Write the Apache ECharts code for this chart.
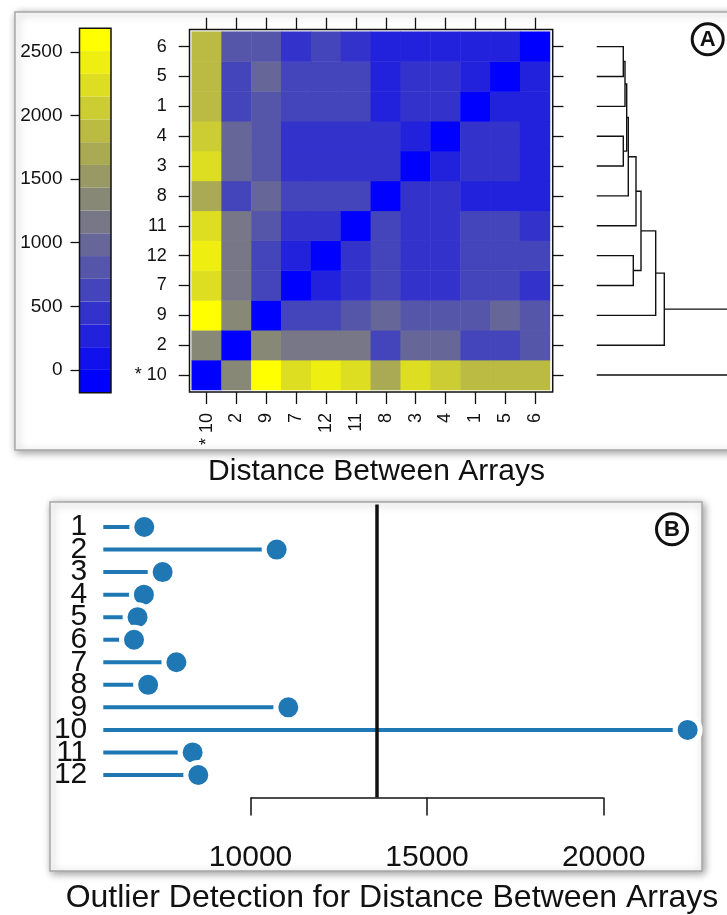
<!DOCTYPE html>
<html>
<head>
<meta charset="utf-8">
<title>Distance Between Arrays</title>
<script src="https://cdn.jsdelivr.net/npm/echarts@6/dist/echarts.min.js"></script>
<style>
  html, body { margin: 0; padding: 0; background: #fff; }
  #main { width: 727px; height: 915px; }
</style>
</head>
<body>
<div id="main"></div>
<script>
// array order of the heatmap (left -> right, bottom -> top) and of the dendrogram leaves
const arrayOrder = ['10', '2', '9', '7', '12', '11', '8', '3', '4', '1', '5', '6'];
const flaggedArray = '10';

// distances between arrays, rows and columns in arrayOrder
const distanceMatrix = [
  [0, 1330, 2570, 2210, 2390, 2210, 1680, 2210, 2035, 1860, 1860, 1860],
  [1330, 0, 1330, 1150, 1150, 1150, 620, 975, 975, 620, 620, 800],
  [2570, 1330, 0, 620, 620, 800, 975, 800, 800, 800, 975, 800],
  [2210, 1150, 620, 0, 270, 445, 620, 445, 445, 620, 620, 445],
  [2390, 1150, 620, 270, 0, 445, 620, 445, 445, 620, 620, 620],
  [2210, 1150, 800, 445, 445, 0, 620, 445, 445, 620, 620, 445],
  [1680, 620, 975, 620, 620, 620, 0, 445, 445, 270, 270, 270],
  [2210, 975, 800, 445, 445, 445, 445, 0, 270, 445, 445, 270],
  [2035, 975, 800, 445, 445, 445, 445, 270, 0, 445, 445, 270],
  [1860, 620, 800, 620, 620, 620, 270, 445, 445, 0, 270, 270],
  [1860, 620, 975, 620, 620, 620, 270, 445, 445, 270, 0, 270],
  [1860, 800, 800, 445, 620, 445, 270, 270, 270, 270, 270, 0]
];

// colour key
const colorBreaks = [-179, 0, 179, 358, 537, 716, 895, 1074, 1253, 1432, 1611, 1790, 1969, 2148, 2327, 2506, 2685];
const colorRamp = ['#0000ff', '#1111ee', '#2222dd', '#3333cc', '#4444bb', '#5555aa', '#666699', '#777788',
                   '#888877', '#999966', '#aaaa55', '#bbbb44', '#cccc33', '#dddd22', '#eeee11', '#ffff00'];
const colorTicks = [0, 500, 1000, 1500, 2000, 2500];

// hclust style merges: negative = array id, positive = earlier merge step, last = height
const dendroMerges = [
  [-6, -5, 266],
  [1, -1, 283],
  [-4, -3, 266],
  [2, 3, 300],
  [4, -8, 316],
  [5, -11, 393],
  [-12, -7, 366],
  [6, 7, 443],
  [8, -9, 590],
  [9, -2, 676],
  [10, -10, 1990]
];

// panel B
const outlierArrays = ['1', '2', '3', '4', '5', '6', '7', '8', '9', '10', '11', '12'];
const outlierScores = [6990, 10740, 7510, 6980, 6800, 6700, 7900, 7100, 11070, 22380, 8360, 8520];
const outlierThreshold = 13570;
const outlierTicks = [10000, 15000, 20000];

const FONT = 'Liberation Sans, Arial, Helvetica, sans-serif';
const INK = '#111';
const plain = v => String(v);

const orderLabels = arrayOrder.map(a => a === flaggedArray ? '* ' + a : a);

// heatmap cells
const heatData = [];
for (let i = 0; i < arrayOrder.length; i++) {
  for (let j = 0; j < arrayOrder.length; j++) {
    heatData.push([i, j, distanceMatrix[j][i]]);
  }
}

const pieces = colorRamp.map((c, k) => ({ gt: colorBreaks[k], lte: colorBreaks[k + 1], color: c }));
const keyData = colorRamp.map((c, k) => [colorBreaks[k], colorBreaks[k + 1], k]);

// dendrogram segments from the merge table
const nodes = [];
const nodeOf = ref => ref < 0 ? { h: 0, p: arrayOrder.indexOf(String(-ref)) } : nodes[ref - 1];
const dendroData = dendroMerges.map(m => {
  const a = nodeOf(m[0]), b = nodeOf(m[1]);
  nodes.push({ h: m[2], p: (a.p + b.p) / 2 });
  return [a.h, a.p, b.h, b.p, m[2]];
});

const catY = [''].concat(outlierArrays, [' ']);

const tickStyle = { color: INK, width: 1.3 };

const chart = echarts.init(document.getElementById('main'));

chart.setOption({
  animation: false,
  textStyle: { fontFamily: FONT },
  grid: [
    { left: 79.5, top: 28.3, width: 31.5, height: 364.4, show: true, z: 5, borderColor: INK, borderWidth: 1.5, backgroundColor: 'transparent', outerBoundsMode: 'none' },
    { left: 189.5, top: 29.5, width: 363.2, height: 362.5, show: true, borderColor: INK, borderWidth: 1.5, backgroundColor: 'transparent', outerBoundsMode: 'none' },
    { left: 191.7, top: 31.7, width: 358.3, height: 358.3, outerBoundsMode: 'none' },
    { left: 596.7, top: 31.7, width: 250, height: 358.3, outerBoundsMode: 'none' },
    { left: 103.3, top: 504.5, width: 596.7, height: 293, outerBoundsMode: 'none' }
  ],
  xAxis: [
    { gridIndex: 0, type: 'value', min: 0, max: 1, show: false },
    { gridIndex: 1, type: 'value', show: false },
    {
      gridIndex: 2, type: 'category', data: orderLabels, position: 'bottom', offset: 2,
      axisLine: { show: false },
      axisTick: { show: true, alignWithLabel: true, length: 12, lineStyle: tickStyle },
      axisLabel: { rotate: 90, margin: 21, fontSize: 18, color: INK, interval: 0 },
      splitLine: { show: false }
    },
    {
      gridIndex: 2, type: 'category', data: orderLabels, position: 'top', offset: 2,
      axisLine: { show: false },
      axisTick: { show: true, alignWithLabel: true, length: 12, lineStyle: tickStyle },
      axisLabel: { show: false },
      splitLine: { show: false }
    },
    { gridIndex: 3, type: 'value', min: 0, max: 2500, show: false },
    {
      gridIndex: 4, type: 'value', min: 5830, max: 22730,
      axisLine: { show: false },
      splitLine: { show: false },
      axisTick: { show: true, customValues: outlierTicks, length: 18, lineStyle: { color: INK, width: 1.5 } },
      axisLabel: { customValues: outlierTicks, formatter: plain, fontSize: 30, margin: 45, color: INK }
    }
  ],
  yAxis: [
    {
      gridIndex: 0, type: 'value', min: colorBreaks[0], max: colorBreaks[colorBreaks.length - 1],
      axisLine: { show: false },
      splitLine: { show: false },
      axisTick: { show: true, customValues: colorTicks, length: 9, lineStyle: tickStyle },
      axisLabel: { customValues: colorTicks, formatter: plain, fontSize: 19, margin: 17, color: INK }
    },
    { gridIndex: 1, type: 'value', show: false },
    {
      gridIndex: 2, type: 'category', data: orderLabels, position: 'left', offset: 2,
      axisLine: { show: false },
      axisTick: { show: true, alignWithLabel: true, length: 11, lineStyle: tickStyle },
      axisLabel: { margin: 23, fontSize: 18, color: INK, interval: 0 },
      splitLine: { show: false }
    },
    {
      gridIndex: 2, type: 'category', data: orderLabels, position: 'right', offset: 2.5,
      axisLine: { show: false },
      axisTick: { show: true, alignWithLabel: true, length: 11, lineStyle: tickStyle },
      axisLabel: { show: false },
      splitLine: { show: false }
    },
    { gridIndex: 3, type: 'value', min: -0.5, max: arrayOrder.length - 0.5, show: false },
    {
      gridIndex: 4, type: 'category', data: catY, inverse: true, boundaryGap: false,
      axisLine: { show: false },
      axisTick: { show: false },
      axisLabel: { fontSize: 30, margin: 16, color: INK, interval: 0 },
      splitLine: { show: false }
    }
  ],
  visualMap: {
    type: 'piecewise', show: false, dimension: 2, seriesIndex: 1, pieces: pieces
  },
  series: [
    {
      // colour key
      type: 'custom', xAxisIndex: 0, yAxisIndex: 0, data: keyData,
      renderItem: (params, api) => {
        const p0 = api.coord([0, api.value(1)]);
        const p1 = api.coord([1, api.value(0)]);
        return {
          type: 'rect',
          shape: { x: p0[0], y: p0[1], width: p1[0] - p0[0], height: p1[1] - p0[1] },
          style: { fill: colorRamp[api.value(2)] }
        };
      }
    },
    {
      type: 'heatmap', xAxisIndex: 2, yAxisIndex: 2, data: heatData,
      itemStyle: { borderWidth: 0 },
      emphasis: { disabled: true }
    },
    {
      // dendrogram
      type: 'custom', xAxisIndex: 4, yAxisIndex: 4, data: dendroData, clip: false,
      renderItem: (params, api) => {
        const h = api.value(4);
        const a = api.coord([api.value(0), api.value(1)]);
        const a2 = api.coord([h, api.value(1)]);
        const b2 = api.coord([h, api.value(3)]);
        const b = api.coord([api.value(2), api.value(3)]);
        return {
          type: 'polyline',
          shape: { points: [a, a2, b2, b] },
          style: { stroke: INK, lineWidth: 1.4, fill: null }
        };
      }
    },
    {
      type: 'bar', xAxisIndex: 5, yAxisIndex: 5, barWidth: 4,
      data: outlierArrays.map((a, i) => [outlierScores[i], a]),
      itemStyle: { color: '#1f77b4' },
      markLine: {
        silent: true, symbol: 'none', label: { show: false },
        data: [
          [
            { coord: [outlierTicks[0], catY.length - 1], lineStyle: { color: INK, width: 1.5, type: 'solid' } },
            { coord: [outlierTicks[outlierTicks.length - 1], catY.length - 1] }
          ],
          { xAxis: outlierThreshold, lineStyle: { color: INK, width: 3.5, type: 'solid' } }
        ]
      }
    },
    {
      type: 'scatter', xAxisIndex: 5, yAxisIndex: 5, symbolSize: 25,
      data: outlierArrays.map((a, i) => [outlierScores[i], a]),
      itemStyle: { color: '#1f77b4', borderColor: '#fff', borderWidth: 5, opacity: 1 },
      z: 4
    }
  ],
  graphic: [
    {
      type: 'rect', z: -10, silent: true,
      shape: { x: 15, y: 12, width: 740, height: 438 },
      style: { fill: '#fff', stroke: '#a8a8a8', lineWidth: 1.5, shadowBlur: 8, shadowColor: 'rgba(0,0,0,0.4)', shadowOffsetX: 2, shadowOffsetY: 2 }
    },
    {
      type: 'rect', z: -10, silent: true,
      shape: { x: 50, y: 502, width: 652, height: 369 },
      style: { fill: '#fff', stroke: '#a8a8a8', lineWidth: 1.5, shadowBlur: 8, shadowColor: 'rgba(0,0,0,0.4)', shadowOffsetX: 2, shadowOffsetY: 2 }
    },
    {
      type: 'text', x: 376.5, y: 472, z: 10,
      style: { text: 'Distance Between Arrays', font: '30px ' + FONT, fill: INK, align: 'center', verticalAlign: 'middle' }
    },
    {
      type: 'text', x: 392, y: 898, z: 10,
      style: { text: 'Outlier Detection for Distance Between Arrays', font: '32px ' + FONT, fill: INK, align: 'center', verticalAlign: 'middle' }
    },
    {
      type: 'circle', z: 10, shape: { cx: 707.7, cy: 39.3, r: 15.5 },
      style: { fill: '#fff', stroke: INK, lineWidth: 3 }
    },
    {
      type: 'text', x: 707.7, y: 40, z: 11,
      style: { text: 'A', font: 'bold 22px ' + FONT, fill: INK, align: 'center', verticalAlign: 'middle' }
    },
    {
      type: 'circle', z: 10, shape: { cx: 672, cy: 529.3, r: 15.5 },
      style: { fill: '#fff', stroke: INK, lineWidth: 3 }
    },
    {
      type: 'text', x: 672, y: 530, z: 11,
      style: { text: 'B', font: 'bold 22px ' + FONT, fill: INK, align: 'center', verticalAlign: 'middle' }
    }
  ]
});
</script>
</body>
</html>
